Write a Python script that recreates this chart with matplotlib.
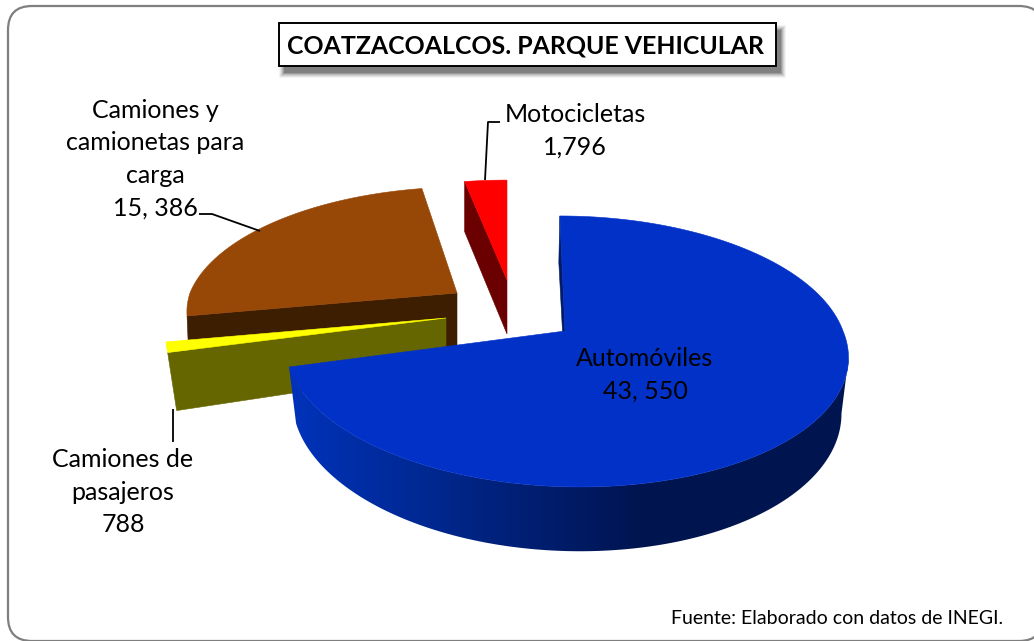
import numpy as np
import matplotlib
matplotlib.use("Agg")
import matplotlib.pyplot as plt
from matplotlib.patches import Polygon, FancyBboxPatch, Rectangle

# ---- data ----
categories = ["Automóviles", "Camiones de pasajeros",
              "Camiones y camionetas para carga", "Motocicletas"]
values = [43550, 788, 15386, 1796]
label_texts = ["Automóviles\n43, 550", "Camiones de\npasajeros\n788",
               "Camiones y\ncamionetas para\ncarga\n15, 386", "Motocicletas\n1,796"]
title = "COATZACOALCOS. PARQUE VEHICULAR"
source = "Fuente: Elaborado con datos de INEGI."

W, H = 1034, 641
plt.rcParams['font.family'] = ['Lato', 'DejaVu Sans']
fig = plt.figure(figsize=(W / 100, H / 100), dpi=100, facecolor='white')
ax = fig.add_axes([0, 0, 1, 1])
ax.axis('off')

KP = 0.151
bounds = np.concatenate([[0], np.cumsum(values)]) / np.sum(values) * 2 * np.pi


def top(th, cx, cy, a, b, sh=(0, 0)):
    th = np.asarray(th, float)
    c, s = np.cos(th), np.sin(th)
    p = 1 / (1 + KP * c)
    dy = -b * c * p
    x = cx + a * s * p + np.where(dy < 0, sh[0], sh[1]) * dy
    return x, cy + dy


def low(th, cx, cy, a, b, dep, sh=(0, 0)):
    th = np.asarray(th, float)
    c, s = np.cos(th), np.sin(th)
    p = 1 / (1 + KP * c)
    dy = -b * c * p
    x = cx + 0.975 * a * s * p + np.where(dy < 0, sh[0], sh[1]) * dy
    return x, cy + dep + 1.066 * dy


def fan(t0, t1, cx, cy, a, b, sh=(0, 0), n=200):
    th = np.linspace(t0, t1, n)
    x, y = top(th, cx, cy, a, b, sh)
    return np.vstack([np.c_[x, y], [[cx, cy]]])


def poly(pts, color, z):
    ax.add_patch(Polygon(pts, closed=True, facecolor=color, edgecolor=color, lw=0.4, zorder=z))


# frame
ax.add_patch(FancyBboxPatch((32, 30), 987, 587, boxstyle="round,pad=24,rounding_size=24",
                            facecolor='white', edgecolor='#7f7f7f', lw=1.6, zorder=0))

# Camiones y camionetas para carga (brown)
t0, t1 = bounds[2], bounds[3]
bx = (457, 293, 267, 122)
bsh = (-0.07, 0)
x0, y0 = top(t0, *bx, bsh)
poly([(x0, y0), (bx[0], bx[1]), (bx[0], bx[1] + 53), (x0 + 2, y0 + 53 - 23 * 0.25)], '#3d1e00', 2)
poly(fan(t0, t1, *bx, bsh), '#974706', 3)

# Camiones de pasajeros (yellow / olive)
t0, t1 = bounds[1], bounds[2]
px = (446, 318, 277, 127)
x0, y0 = top(t0, *px)
poly([(x0, y0), (px[0], px[1]), (px[0], px[1] + 52), (x0 + 9, y0 + 58)], '#666600', 4)
poly(fan(t0, t1, *px, n=10), '#ffff00', 5)

# Motocicletas (red)
t0, t1 = bounds[3], bounds[4]
mx = (507, 280, 267, 115)
x0, y0 = top(t0, *mx)
poly([(x0, y0), (mx[0], mx[1]), (mx[0], mx[1] + 54), (x0, y0 + 50)], '#6b0000', 4)
poly(fan(t0, t1, *mx, n=40), '#ff0000', 5)

# Automóviles (blue)
t0, t1 = bounds[0], bounds[1]
au = (565, 331, 278, 132.4)
sh = (0.045, 0.096)
xa, ya = top(0.0, *au, sh)
xl, yl = low(0.0, *au, 54, sh)
poly([(xa, ya), (au[0], au[1]), (au[0] - 2, au[1] + 10), (xl - 1, yl)], '#001a66', 6)

# curved side with a left-to-right gradient, clipped to the rim
stops_x = [289, 430, 640, 850]
stops_c = np.array([[0x00, 0x33, 0xbb], [0x00, 0x28, 0x90], [0x00, 0x14, 0x50], [0x00, 0x16, 0x50]]) / 255
ths = np.linspace(np.radians(60), t1, 600)
xt, yt = top(ths, *au, sh)
xb, yb = low(ths, *au, 54, sh)
it, ib = int(np.argmax(xt)), int(np.argmax(xb))
rim = Polygon(np.vstack([np.c_[xt[it:], yt[it:]], np.c_[xb[ib:], yb[ib:]][::-1]]), closed=True,
              facecolor='none', edgecolor='none', transform=ax.transData)
ax.add_patch(rim)
gx = np.arange(280, 860)
grad = np.stack([np.interp(gx, stops_x, stops_c[:, k]) for k in range(3)], axis=-1)[None, :, :]
im = ax.imshow(grad, extent=(280, 860, 560, 200), aspect='auto', zorder=6, interpolation='bilinear')
im.set_clip_path(rim)
poly(fan(t0, t1, *au, sh, n=400), '#0231c8', 7)

ax.set_xlim(0, W)
ax.set_ylim(H, 0)

# leader lines
for xs, ys in [([485, 488, 500], [180, 122, 122]),
               ([199, 212, 260], [214, 214, 231]),
               ([173, 173], [409, 442])]:
    ax.plot(xs, ys, color='black', lw=1.3, zorder=8, solid_capstyle='butt')

# labels
kw = dict(ha='center', va='center', fontsize=18, color='black', linespacing=1.5, zorder=9)
ax.text(645, 375, label_texts[0], **kw)
ax.text(123, 492, label_texts[1], **kw)
ax.text(155, 159, label_texts[2], **kw)
ax.text(575, 131, label_texts[3], **kw)

# title box with soft shadow
for i, al in zip(range(6, 0, -1), [0.06, 0.08, 0.12, 0.16, 0.22, 0.3]):
    ax.add_patch(Rectangle((279 + 6 - i, 23 + 8 - i), 497 + 2 * i - 2, 43 + 2 * i - 2,
                           facecolor='#404040', edgecolor='none', alpha=al, zorder=10))
ax.add_patch(Rectangle((279, 23), 497, 43, facecolor='white', edgecolor='black', lw=1.4, zorder=11))
ax.text(525.5, 46, title, ha='center', va='center', fontsize=17.95, fontweight='bold', color='black', zorder=12)

# source
ax.text(1003, 619, source, ha='right', va='center', fontsize=14.05, color='black', zorder=9)

fig.savefig("out.png", dpi=100)
